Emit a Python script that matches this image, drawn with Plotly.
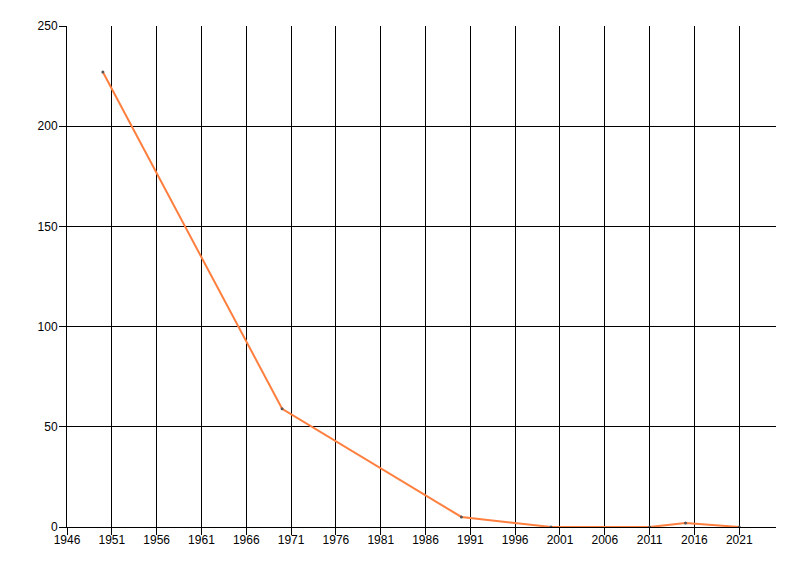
import plotly.graph_objects as go

years = [1950, 1970, 1990, 2000, 2011, 2015, 2021]
values = [227, 59, 5, 0, 0, 2, 0]
x_ticks = [1946, 1951, 1956, 1961, 1966, 1971, 1976, 1981, 1986, 1991, 1996, 2001, 2006, 2011, 2016, 2021]
y_ticks = [0, 50, 100, 150, 200, 250]

fig = go.Figure()
fig.add_trace(go.Scatter(
    x=years, y=values, mode="lines+markers",
    line=dict(color="#FF7F3F", width=2),
    marker=dict(size=3, color="#555555"),
    hoverinfo="x+y", showlegend=False,
))

fig.update_layout(
    width=800, height=576,
    margin=dict(l=59, r=32, t=18, b=57),
    paper_bgcolor="white", plot_bgcolor="white",
    font=dict(family="Liberation Sans, Arial, sans-serif", size=12, color="black"),
)
fig.update_xaxes(
    range=[1946, 2025.1], tickvals=x_ticks, ticktext=[str(v) for v in x_ticks],
    showgrid=True, gridcolor="black", gridwidth=1,
    showline=True, linecolor="black", linewidth=1,
    ticks="outside", ticklen=7, tickcolor="black", zeroline=False,
    ticklabelstandoff=-5,
)
fig.update_yaxes(
    range=[0, 250], tickvals=y_ticks,
    showgrid=True, gridcolor="black", gridwidth=1,
    showline=True, linecolor="black", linewidth=1,
    ticks="outside", ticklen=7, tickcolor="black", zeroline=False,
    ticklabelstandoff=-1,
)

fig.write_html("out.html")
